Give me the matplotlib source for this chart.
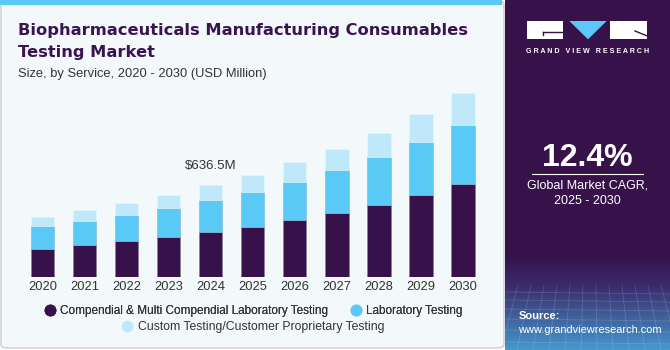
import matplotlib
matplotlib.use("Agg")
import matplotlib.pyplot as plt
import numpy as np
from matplotlib.patches import FancyBboxPatch, Rectangle, Polygon
from matplotlib.lines import Line2D

years = ["2020", "2021", "2022", "2023", "2024", "2025", "2026", "2027", "2028", "2029", "2030"]
compendial = [197.6, 222.9, 248.2, 278.0, 310.2, 349.3, 393.0, 443.5, 501.0, 569.9, 645.7]
laboratory = [156.3, 165.5, 181.5, 202.2, 222.9, 241.3, 266.6, 296.4, 328.6, 365.4, 406.7]
custom = [64.3, 75.8, 85.0, 89.6, 103.4, 117.2, 135.6, 147.1, 167.8, 188.4, 216.0]
series_names = ["Compendial & Multi Compendial Laboratory Testing",
                "Laboratory Testing",
                "Custom Testing/Customer Proprietary Testing"]
annot_year = "2024"
annot_text = "$636.5M"
cagr = "12.4%"

C_DARK = "#37114a"
C_BLUE = "#5bc9f5"
C_LIGHT = "#bfe9fa"
BG = "#f3f8fb"
TXT = "#333333"

W, H = 670, 350
fig = plt.figure(figsize=(6.7, 3.5), dpi=100)
fig.patch.set_facecolor("white")

def fx(px):
    return px / W

def fy(py):
    return 1 - py / H

# left panel background
fig.patches.append(FancyBboxPatch((fx(1), fy(348)), fx(503), (347) / H,
                                  boxstyle="round,pad=0,rounding_size=0.01",
                                  transform=fig.transFigure, facecolor=BG,
                                  edgecolor="#cccccc", linewidth=1.0, zorder=-2))
fig.patches.append(Rectangle((0, fy(5)), fx(502), 5 / H, transform=fig.transFigure,
                             facecolor=C_BLUE, edgecolor="none", zorder=-1))

# right panel
rp = fig.add_axes([fx(505), 0, fx(165), 1])
rp.set_xlim(0, 165)
rp.set_ylim(350, 0)
rp.axis("off")
grad = np.zeros((350, 1, 3))
top = np.array([0x37, 0x12, 0x4a]) / 255
mid = np.array([0x3a, 0x2a, 0x6a]) / 255
bot = np.array([0x45, 0x9a, 0xd0]) / 255
for i in range(350):
    if i < 255:
        grad[i, 0] = top
    elif i < 285:
        t = (i - 255) / 30
        grad[i, 0] = top * (1 - t) + mid * t
    else:
        t = (i - 285) / 65
        grad[i, 0] = mid * (1 - t) + bot * t
rp.imshow(grad, extent=[0, 165, 350, 0], aspect="auto", zorder=0)
for k in range(14):
    xx = k * 13
    rp.plot([xx, xx - 20 + k * 3], [285, 350], color="white", alpha=0.15, lw=0.6, zorder=1)
for yy in [292, 300, 309, 319, 330, 342]:
    rp.plot([0, 165], [yy, yy + 2], color="white", alpha=0.15, lw=0.6, zorder=1)

# logo
rp.add_patch(Rectangle((21.7, 21), 36.6, 18.3, facecolor="white", edgecolor="none", zorder=2))
rp.plot([38, 58.3], [31.5, 31.5], color=C_DARK, lw=1.0, zorder=3)
rp.plot([38, 38], [31.5, 35], color=C_DARK, lw=1.0, zorder=3)
rp.add_patch(Polygon([[64.3, 21], [101.7, 21], [83, 39.3]], closed=True, facecolor=C_BLUE,
                     edgecolor="none", zorder=2))
rp.add_patch(Rectangle((105, 21), 37.3, 18.3, facecolor="white", edgecolor="none", zorder=2))
rp.plot([130, 142.3], [31, 36], color=C_DARK, lw=1.0, zorder=3)
rp.text(82.5, 51.5, "G R A N D   V I E W   R E S E A R C H", color="white", fontsize=5.1,
        fontweight="bold", ha="center", va="center", family="Liberation Sans", zorder=3)

rp.text(82.5, 166, cagr, color="white", fontsize=23, fontweight="bold", ha="center",
        va="baseline", family="Liberation Sans", zorder=3)
rp.plot([27, 138], [173.5, 173.5], color="white", lw=0.8, zorder=3)
rp.text(82.5, 185.5, "Global Market CAGR,", color="white", fontsize=9, ha="center",
        va="center", family="Liberation Sans", zorder=3)
rp.text(82.5, 201.5, "2025 - 2030", color="white", fontsize=9, ha="center",
        va="center", family="Liberation Sans", zorder=3)
rp.text(13.5, 316, "Source:", color="white", fontsize=8.0, fontweight="bold", ha="left",
        va="center", family="Liberation Sans", zorder=3)
rp.text(13.5, 330, "www.grandviewresearch.com", color="white", fontsize=7.9, ha="left",
        va="center", family="Liberation Sans", zorder=3)

# titles
fig.text(fx(18), fy(35), "Biopharmaceuticals Manufacturing Consumables", fontsize=11.7,
         fontweight="heavy", color="#3a1450", family="DejaVu Sans", ha="left", va="baseline")
fig.text(fx(18), fy(57), "Testing Market", fontsize=11.7, fontweight="heavy",
         color="#3a1450", family="DejaVu Sans", ha="left", va="baseline")
fig.text(fx(18), fy(77.5), "Size, by Service, 2020 - 2030 (USD Million)", fontsize=9.3,
         color=TXT, family="Liberation Sans", ha="left", va="baseline")

# main axes
x0_px = 42.35
step = 42.07
xmin, xmax = -0.8, 10.8
left_px = x0_px + xmin * step
width_px = (xmax - xmin) * step
base_py = 277.3
top_py = 88.0
mpp = 6.894
ax = fig.add_axes([fx(left_px), fy(base_py), fx(width_px), (base_py - top_py) / H])
ax.set_facecolor("none")
x = np.arange(len(years))
bw = 0.555
c = np.array(compendial)
l = np.array(laboratory)
u = np.array(custom)
ax.bar(x, c, width=bw, color=C_DARK, edgecolor="#8a7a95", linewidth=0.4, zorder=2)
ax.bar(x, l, width=bw, bottom=c, color=C_BLUE, edgecolor="#7ab8d8", linewidth=0.4, zorder=2)
ax.bar(x, u, width=bw, bottom=c + l, color=C_LIGHT, edgecolor="#e6f6fd", linewidth=0.4, zorder=2)
ax.set_xlim(xmin, xmax)
ax.set_ylim(0, (base_py - top_py) * mpp)
ax.set_xticks(x)
ax.set_xticklabels(years, fontsize=9.3, color=TXT, family="Liberation Sans")
ax.tick_params(axis="x", length=0, pad=3)
ax.set_yticks([])
for s in ax.spines.values():
    s.set_visible(False)
i = years.index(annot_year)
tot = c[i] + l[i] + u[i]
ax.text(x[i], tot + 13 * mpp, annot_text, ha="center", va="bottom",
        fontsize=9.5, color=TXT, family="Liberation Sans")

# legend
def handle(col):
    return Line2D([], [], marker="o", linestyle="none", markersize=7.5,
                  markerfacecolor=col, markeredgecolor=col)

leg1 = fig.legend([handle(C_DARK), handle(C_BLUE)], series_names[:2], loc="center",
                  bbox_to_anchor=(fx(252), fy(311)), ncol=2, frameon=False,
                  prop={"family": "Liberation Sans", "size": 8.5}, handletextpad=0.2,
                  columnspacing=1.6, handlelength=1.4, labelcolor=TXT)
leg2 = fig.legend([handle(C_LIGHT)], series_names[2:], loc="center",
                  bbox_to_anchor=(fx(251), fy(327)), ncol=1, frameon=False,
                  prop={"family": "Liberation Sans", "size": 8.8}, handletextpad=0.2,
                  handlelength=1.4, labelcolor=TXT)
fig.add_artist(leg1)

fig.savefig("out.png", dpi=100, facecolor=fig.get_facecolor())
